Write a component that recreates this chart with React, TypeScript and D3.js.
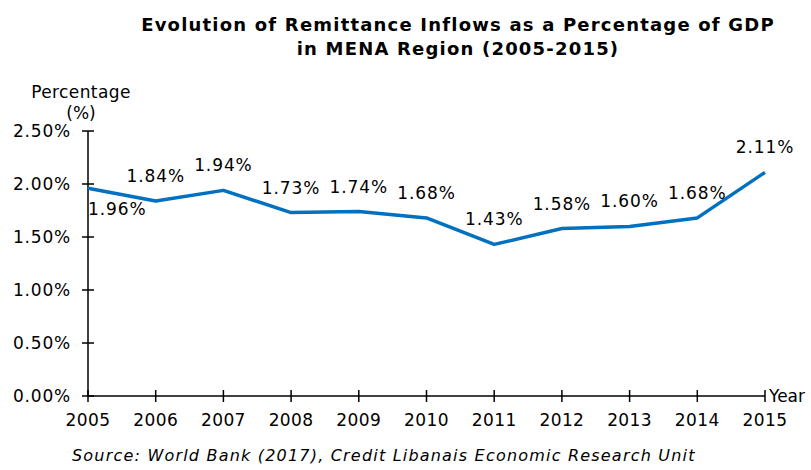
import React from "react";
import * as d3 from "d3";

const years = [2005, 2006, 2007, 2008, 2009, 2010, 2011, 2012, 2013, 2014, 2015];
const values = [1.96, 1.84, 1.94, 1.73, 1.74, 1.68, 1.43, 1.58, 1.6, 1.68, 2.11];
const yTicks = [0, 0.5, 1.0, 1.5, 2.0, 2.5];
const titleLines = [
  "Evolution of Remittance Inflows as a Percentage of GDP",
  "in MENA Region (2005-2015)",
];
const sourceText = "Source: World Bank (2017), Credit Libanais Economic Research Unit";

const W = 811;
const H = 470;
const FONT = "'DejaVu Sans', Verdana, sans-serif";

export default function App() {
  const x = d3.scaleLinear().domain([2005, 2015]).range([88, 765]);
  const y = d3.scaleLinear().domain([0, 2.5]).range([396, 131]);
  const line = d3
    .line<number>()
    .x((_, i) => x(years[i]))
    .y((d) => y(d));

  return (
    <div style={{ position: "fixed", left: 0, top: 0 }}>
      <svg width={W} height={H} style={{ display: "block", background: "#fff" }}>
        {titleLines.map((t, i) => (
          <text
            key={i}
            x={458}
            y={31 + i * 24}
            textAnchor="middle"
            fontFamily={FONT}
            fontWeight="bold"
            fontSize={18}
            letterSpacing={1.2}
            fill="#000"
          >
            {t}
          </text>
        ))}
        <text x={81} y={98} textAnchor="middle" fontFamily={FONT} fontSize={17} letterSpacing={0.4} fill="#000">
          Percentage
        </text>
        <text x={81} y={119} textAnchor="middle" fontFamily={FONT} fontSize={17} fill="#000">
          (%)
        </text>
        {/* y axis */}
        <line x1={88} x2={88} y1={y(2.5)} y2={y(0)} stroke="#000" strokeWidth={1.5} />
        {yTicks.map((t) => (
          <g key={t}>
            <line x1={82} x2={94} y1={y(t)} y2={y(t)} stroke="#000" strokeWidth={1.5} />
            <text
              x={71}
              y={y(t)}
              dy="0.36em"
              textAnchor="end"
              fontFamily={FONT}
              fontSize={17}
              letterSpacing={0.8}
              fill="#000"
            >
              {t.toFixed(2)}%
            </text>
          </g>
        ))}
        {/* x axis */}
        <line x1={88} x2={765} y1={y(0)} y2={y(0)} stroke="#000" strokeWidth={1.5} />
        {years.map((yr) => (
          <g key={yr}>
            <line x1={x(yr)} x2={x(yr)} y1={y(0) - 6} y2={y(0) + 6} stroke="#000" strokeWidth={1.5} />
            <text
              x={x(yr)}
              y={426}
              textAnchor="middle"
              fontFamily={FONT}
              fontSize={17}
              letterSpacing={0.4}
              fill="#000"
            >
              {yr}
            </text>
          </g>
        ))}
        <text x={769} y={402} fontFamily={FONT} fontSize={17} fill="#000">
          Year
        </text>
        {/* line */}
        <path d={line(values) || ""} fill="none" stroke="#0070C0" strokeWidth={3.5} strokeLinejoin="round" />
        {values.map((v, i) => {
          const first = i === 0;
          return (
            <text
              key={i}
              x={x(years[i])}
              y={first ? y(v) + 27 : y(v) - 19}
              textAnchor={first ? "start" : "middle"}
              fontFamily={FONT}
              fontSize={17}
              letterSpacing={0.9}
              fill="#000"
            >
              {v.toFixed(2)}%
            </text>
          );
        })}
        <text
          x={72}
          y={461}
          fontFamily={FONT}
          fontStyle="italic"
          fontSize={16}
          letterSpacing={1.2}
          fill="#000"
        >
          {sourceText}
        </text>
      </svg>
    </div>
  );
}
